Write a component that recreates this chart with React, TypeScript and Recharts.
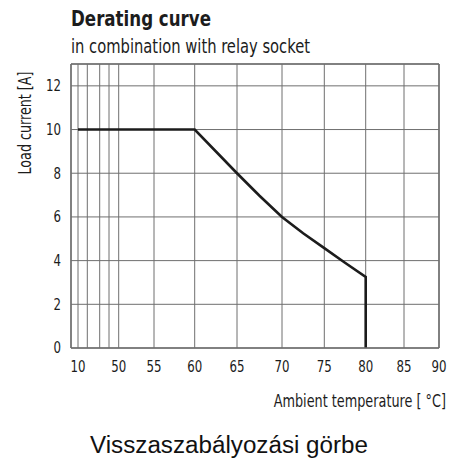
import * as React from "react"
import { LineChart, Line, XAxis, YAxis, CartesianGrid, ReferenceLine } from "recharts"

// temperature scale of the original is not linear (10..50 squeezed in)
const tempStops = [10, 20, 30, 40, 50, 55, 60, 65, 70, 75, 80, 85, 90]
const stopPos = [7, 16.3, 28.7, 38, 47.7, 83, 123.7, 166, 211, 253.3, 294.7, 333, 368]
const xTickLabels = ["10", "", "", "", "50", "55", "60", "65", "70", "75", "80", "85", "90"]
const yTicks = [0, 2, 4, 6, 8, 10, 12]

const temperature = [10, 60, 65, 67.5, 70, 72.5, 75, 77.5, 80, 80]
const loadCurrent = [10, 10, 8, 6.97, 6, 5.25, 4.57, 3.9, 3.25, 0]

const toAxis = (t: number) => {
  for (let i = 0; i < tempStops.length - 1; i++) {
    const a = tempStops[i]
    const b = tempStops[i + 1]
    if (t >= a && t <= b) {
      return stopPos[i] + ((t - a) / (b - a)) * (stopPos[i + 1] - stopPos[i])
    }
  }
  return stopPos[stopPos.length - 1]
}

const data = temperature.map((t, i) => ({ x: toAxis(t), current: loadCurrent[i] }))

const narrow = "'DejaVu Sans Condensed', 'DejaVu Sans', sans-serif"
const gridColor = "#6f6f6f"
const ink = "#1c1c1c"
const digitWidth = 7.5

// the original uses a condensed face, squeeze the digits to its width
const XTick = (props: any) => {
  const { x, y, payload } = props
  const label = xTickLabels[stopPos.indexOf(payload.value)] ?? ""
  if (!label) return <g />
  return (
    <text
      x={x}
      y={y}
      dy="0.72em"
      textAnchor="middle"
      fontFamily={narrow}
      fontSize={15}
      fill={ink}
      textLength={label.length * digitWidth}
      lengthAdjust="spacingAndGlyphs"
    >
      {label}
    </text>
  )
}

const YTick = (props: any) => {
  const { x, y, payload } = props
  const label = String(payload.value)
  return (
    <text
      x={x}
      y={y}
      dy="0.36em"
      textAnchor="end"
      fontFamily={narrow}
      fontSize={15}
      fill={ink}
      textLength={label.length * digitWidth}
      lengthAdjust="spacingAndGlyphs"
    >
      {label}
    </text>
  )
}

export default function App() {
  return (
    <div style={{ position: "relative", width: 454, height: 461, background: "#fff" }}>
      <style>{"body{margin:0}"}</style>
      <LineChart
        width={454}
        height={461}
        data={data}
        margin={{ top: 64, right: 15, bottom: 83, left: 11 }}
        style={{ position: "absolute", left: 0, top: 0 }}
      >
        <CartesianGrid stroke={gridColor} strokeWidth={1} />
        <XAxis
          type="number"
          dataKey="x"
          domain={[0, 368]}
          ticks={stopPos}
          interval={0}
          tickLine={false}
          tickSize={0}
          tickMargin={13}
          axisLine={{ stroke: gridColor, strokeWidth: 1.5 }}
          tick={<XTick />}
          height={30}
        />
        <YAxis
          type="number"
          domain={[0, 13]}
          ticks={yTicks}
          interval={0}
          tickLine={false}
          tickSize={0}
          tickMargin={10}
          axisLine={{ stroke: gridColor, strokeWidth: 1.5 }}
          tick={<YTick />}
          width={60}
        />
        <ReferenceLine y={13} stroke={gridColor} strokeWidth={1.5} />
        <ReferenceLine x={368} stroke={gridColor} strokeWidth={1.5} />
        <Line
          type="linear"
          dataKey="current"
          stroke={ink}
          strokeWidth={2.6}
          dot={false}
          activeDot={false}
          isAnimationActive={false}
        />
      </LineChart>
      <svg
        width={454}
        height={461}
        style={{ position: "absolute", left: 0, top: 0, pointerEvents: "none" }}
      >
        <text
          x={71}
          y={26}
          fontFamily={narrow}
          fontWeight="bold"
          fontSize={21}
          fill={ink}
          textLength={140}
          lengthAdjust="spacingAndGlyphs"
        >
          Derating curve
        </text>
        <text
          x={71}
          y={53}
          fontFamily={narrow}
          fontSize={20}
          fill={ink}
          textLength={239}
          lengthAdjust="spacingAndGlyphs"
        >
          in combination with relay socket
        </text>
        <text
          x={0}
          y={0}
          transform="translate(31 123) rotate(-90)"
          textAnchor="middle"
          fontFamily={narrow}
          fontSize={17}
          fill={ink}
          textLength={103}
          lengthAdjust="spacingAndGlyphs"
        >
          Load current [A]
        </text>
        <text
          x={0}
          y={0}
          transform="translate(446 407) scale(0.84 1)"
          textAnchor="end"
          fontFamily={narrow}
          fontSize={17}
          fill={ink}
        >
          Ambient temperature [ °C]
        </text>
        <text
          x={90}
          y={453}
          fontFamily="'Liberation Sans', Arial, sans-serif"
          fontSize={23}
          fill="#111"
          textLength={278}
          lengthAdjust="spacingAndGlyphs"
        >
          Visszaszabályozási görbe
        </text>
      </svg>
    </div>
  )
}
